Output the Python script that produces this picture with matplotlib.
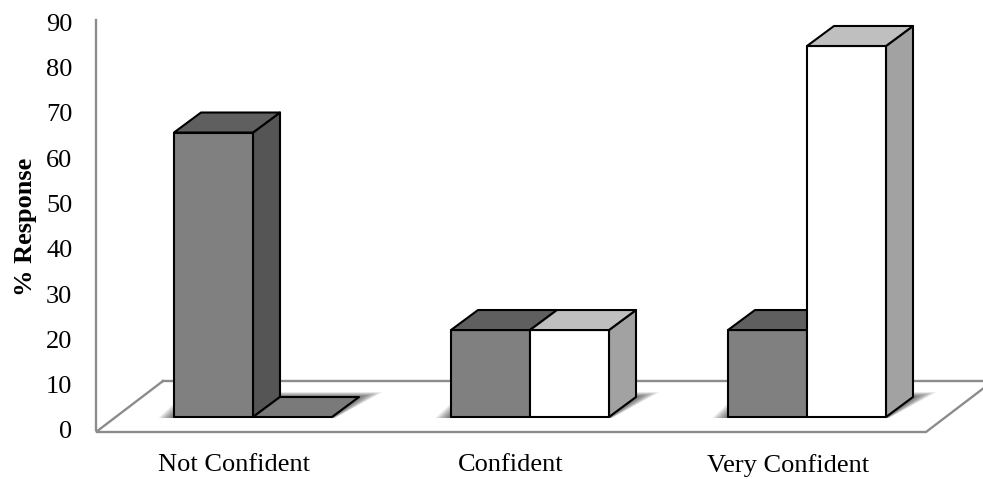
import matplotlib
matplotlib.use("Agg")
import matplotlib.pyplot as plt
from matplotlib.patches import Polygon

# survey results, percent of responses
categories = ["Not Confident", "Confident", "Very Confident"]
series_dark = [62.8, 19.2, 19.2]
series_white = [0, 19.2, 81.9]
y_ticks = [0, 10, 20, 30, 40, 50, 60, 70, 80, 90]

W, H = 983, 479
CAT_PX = 277.0      # pixels between categories
UNIT_PX = 4.53      # pixels per percent

plt.rcParams["font.family"] = ["Liberation Serif", "DejaVu Serif"]

fig = plt.figure(figsize=(W / 100, H / 100), dpi=100)
# axes box: left wall at x=96, value 0 at y=430, wall ends at y=20
ax = fig.add_axes([96 / W, 1 - 430 / H, (W - 96) / W, 410 / H])
ax.set_xlim((96 - 234) / CAT_PX, (W - 234) / CAT_PX)
ax.set_ylim(0, 410 / UNIT_PX)

bar_w = 79 / CAT_PX
bar_off = 19 / CAT_PX      # category centre to the join between the two bars
dx = 27 / CAT_PX           # depth of a bar
dy = 20 / UNIT_PX
lift = 13 / UNIT_PX        # bars stand this far above the front of the floor

GREY = "#8c8c8c"
EDGE = "black"


def poly(pts, fc, ec=EDGE, lw=1.5, z=3, alpha=None):
    p = Polygon(pts, closed=True, facecolor=fc, edgecolor=ec, linewidth=lw,
                zorder=z, alpha=alpha, joinstyle="round", clip_on=False)
    ax.add_patch(p)


def bar3d(x0, value, front, top, side):
    x1 = x0 + bar_w
    y0 = lift
    y1 = lift + value
    if value > 0:
        poly([(x1, y0), (x1 + dx, y0 + dy), (x1 + dx, y1 + dy), (x1, y1)], side)
        poly([(x0, y0), (x1, y0), (x1, y1), (x0, y1)], front)
    poly([(x0, y1), (x1, y1), (x1 + dx, y1 + dy), (x0 + dx, y1 + dy)], top)


def shadow(x0, x1):
    # soft shadow on the floor, built from stacked translucent shapes
    steps = 20
    for s in range(steps):
        t = (steps - s) / steps
        pts = [(x0 - 16 * t / CAT_PX, lift - 1 / UNIT_PX),
               (x1 + 3 * t / CAT_PX, lift - 1 / UNIT_PX),
               (x1 + dx + 24 * t / CAT_PX, lift + dy + 5 * t / UNIT_PX),
               (x0 + dx, lift + dy + 5 * t / UNIT_PX),
               (x0 - 1 * t / CAT_PX, lift + 13 * t / UNIT_PX)]
        poly(pts, "black", ec="none", lw=0, z=2, alpha=0.035)


# floor outline
fx0, fx1 = (96 - 234) / CAT_PX, (926 - 234) / CAT_PX
floor_y = -2 / UNIT_PX
back_y = 49 / UNIT_PX
floor_dx = 67 / CAT_PX
floor = ax.plot([fx0 + floor_dx, fx0, fx1, fx1 + floor_dx, fx0 + floor_dx],
                [back_y, floor_y, floor_y, back_y, back_y],
                color=GREY, lw=1.7, zorder=1, solid_joinstyle="miter")[0]
floor.set_clip_on(False)

for i in range(len(categories)):
    join = i + bar_off
    shadow(join - bar_w, join + bar_w)
    bar3d(join - bar_w, series_dark[i], "#808080", "#5f5f5f", "#555555")
    # a zero bar leaves only its top, which takes a mid grey
    top_col = "#bfbfbf" if series_white[i] > 0 else "#7a7a7a"
    bar3d(join, series_white[i], "white", top_col, "#a2a2a2")

ax.spines["top"].set_visible(False)
ax.spines["right"].set_visible(False)
ax.spines["bottom"].set_visible(False)
ax.spines["left"].set_color(GREY)
ax.spines["left"].set_linewidth(1.7)

ax.set_yticks(y_ticks)
ax.set_xticks(range(len(categories)))
ax.set_xticklabels(categories, fontsize=19)
ax.tick_params(axis="y", length=0, pad=17, labelsize=19)
ax.tick_params(axis="x", length=0, pad=17)
for lab in ax.get_yticklabels():
    lab.set_verticalalignment("center_baseline")
ax.set_ylabel("% Response", fontsize=19, fontweight="bold")
ax.yaxis.set_label_coords(-59 / (W - 96), 0.495)
ax.patch.set_visible(False)

fig.savefig("out.png", dpi=100)
